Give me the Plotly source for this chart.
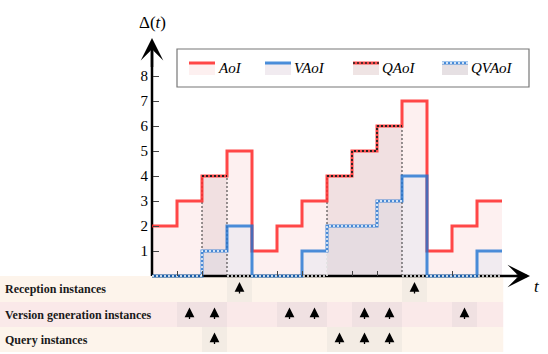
import plotly.graph_objects as go

# Data: one value per unit time slot
slots = list(range(14))
aoi = [2, 3, 4, 5, 1, 2, 3, 4, 5, 6, 7, 1, 2, 3]
vaoi = [0, 0, 1, 2, 0, 0, 1, 2, 2, 3, 4, 0, 0, 1]
reception_slots = [3, 10]
version_slots = [1, 2, 5, 6, 8, 9, 12]
query_slots = [2, 7, 8, 9]
y_ticks = [1, 2, 3, 4, 5, 6, 7, 8]
row_labels = ["Reception instances", "Version generation instances", "Query instances"]
legend_names = ["AoI", "VAoI", "QAoI", "QVAoI"]

# Canvas geometry (pixels) -> data units
W, H = 548, 354
X0_PX, Y0_PX, UNIT = 152, 276, 25
x_range = [-X0_PX / UNIT, (W - X0_PX) / UNIT]
y_range = [-(H - Y0_PX) / UNIT, Y0_PX / UNIT]

RED = "rgba(255,40,40,0.85)"
BLUE = "rgba(30,115,210,0.8)"
PINK = "#fdf0f0"
LAV = "#f1ebf0"
QSHADE = "rgba(140,90,100,0.1)"
SERIF = "Liberation Serif"


def step(vals, start):
    xs = list(range(start, start + len(vals) + 1))
    return xs, list(vals) + [vals[-1]]


def groups(s):
    out = []
    for q in s:
        if out and out[-1][-1] == q - 1:
            out[-1].append(q)
        else:
            out.append([q])
    return out


def px(x):
    return x / W


def py(y):
    return 1 - y / H


fig = go.Figure()
end = len(slots)

# filled areas
x, y = step(aoi, 0)
fig.add_trace(go.Scatter(x=x, y=y, mode="none", fill="tozeroy", fillcolor=PINK, line_shape="hv"))
x, y = step(vaoi, 0)
fig.add_trace(go.Scatter(x=x, y=y, mode="none", fill="tozeroy", fillcolor=LAV, line_shape="hv"))
for w in groups(query_slots):
    x, y = step([aoi[s] for s in w], w[0])
    fig.add_trace(go.Scatter(x=x, y=y, mode="none", fill="tozeroy", fillcolor=QSHADE, line_shape="hv"))

# axis lines
fig.add_trace(go.Scatter(x=[0, end + 1], y=[0, 0], mode="lines", line=dict(color="black", width=2.5)))
fig.add_trace(go.Scatter(x=[0, 0], y=[0, 9.0], mode="lines", line=dict(color="black", width=2.5)))

# query window edges
for w in groups(query_slots):
    a, b = w[0], w[-1] + 1
    fig.add_trace(go.Scatter(x=[a, a, None, b, b], y=[0, aoi[w[0]], None, 0, aoi[w[-1]]],
                             mode="lines", line=dict(color="#333", width=1, dash="2px,2px")))

# AoI / VAoI lines
x, y = step(aoi, 0)
fig.add_trace(go.Scatter(x=x, y=y, mode="lines", line=dict(color=RED, width=3, shape="hv")))
x, y = step(vaoi, 0)
fig.add_trace(go.Scatter(x=x, y=y, mode="lines", line=dict(color=BLUE, width=3, shape="hv")))

# dotted baseline outside query windows (QVAoI at zero)
bx, by = [], []
for g in groups([s for s in slots if s not in query_slots]):
    bx += [g[0], g[-1] + 1, None]
    by += [0, 0, None]
fig.add_trace(go.Scatter(x=bx, y=by, mode="lines", line=dict(color="white", width=1.5, dash="2px,2px")))

# QAoI / QVAoI dotted lines
for w in groups(query_slots):
    x, y = step([aoi[s] for s in w], w[0])
    fig.add_trace(go.Scatter(x=x, y=y, mode="lines", line=dict(color="#222", width=1.8, dash="2px,2px", shape="hv")))
    x, y = step([vaoi[s] for s in w], w[0])
    fig.add_trace(go.Scatter(x=[w[0]] + x, y=[0] + y, mode="lines",
                             line=dict(color="white", width=1.5, dash="2px,2px", shape="hv")))

shapes = []
annotations = []

# bottom table
row_bg = ["#fdf4eb", "#fae9e9", "#fdf4eb"]
cell_bg = ["#f3ece4", "#f0e1e2", "#f3ece4"]
row_slots = [reception_slots, version_slots, query_slots]
for i, (lab, marks) in enumerate(zip(row_labels, row_slots)):
    top = -i - (0.04 if i else 0)
    bot = -i - 1.04
    shapes.append(dict(type="rect", xref="x", yref="y", x0=x_range[0], x1=end + 0.05, y0=bot, y1=top,
                       fillcolor=row_bg[i], line_width=0, layer="below"))
    for s in marks:
        shapes.append(dict(type="rect", xref="x", yref="y", x0=s, x1=s + 1, y0=bot, y1=top,
                           fillcolor=cell_bg[i], line_width=0, layer="below"))
        annotations.append(dict(x=s + 0.5, y=(top + bot) / 2 + 0.28, ax=0, ay=13, text="",
                                showarrow=True, arrowhead=2, arrowsize=1.5, arrowwidth=1.3, arrowcolor="black"))
    annotations.append(dict(xref="paper", x=px(3), y=(top + bot) / 2, text=lab, showarrow=False,
                            xanchor="left", yanchor="middle",
                            font=dict(family=SERIF, size=12, color="#1a1a1a", weight="bold")))

# axis arrowheads and labels
annotations.append(dict(x=0, y=(Y0_PX - 38) / UNIT, ax=0, ay=8.3, axref="x", ayref="y", text="",
                        showarrow=True, arrowhead=3, arrowsize=1.5, arrowwidth=2.5, arrowcolor="black", standoff=0))
annotations.append(dict(x=(530 - X0_PX) / UNIT, y=0, ax=end + 0.5, ay=0, axref="x", ayref="y", text="",
                        showarrow=True, arrowhead=3, arrowsize=1.5, arrowwidth=2.5, arrowcolor="black", standoff=0))
annotations.append(dict(x=0, y=(Y0_PX - 22) / UNIT, text="Δ(<i>t</i>)", showarrow=False,
                        font=dict(family=SERIF, size=17, color="black")))
annotations.append(dict(x=(537 - X0_PX) / UNIT, y=-0.42, text="<i>t</i>", showarrow=False,
                        font=dict(family=SERIF, size=17, color="black")))

# legend box
shapes.append(dict(type="rect", xref="paper", yref="paper", x0=px(177), x1=px(529), y0=py(87), y1=py(49),
                   fillcolor="white", line=dict(color="#777", width=1.2)))
sw_x = [189, 265, 353, 442]
sw_line = [RED, BLUE, RED, BLUE]
sw_fill = [PINK, LAV, "#efe4e4", "#e6e0e3"]
sw_dots = [None, None, "#222", "white"]
for name, x0, lc, fc, dc in zip(legend_names, sw_x, sw_line, sw_fill, sw_dots):
    shapes.append(dict(type="rect", xref="paper", yref="paper", x0=px(x0), x1=px(x0 + 26),
                       y0=py(75), y1=py(63), fillcolor=fc, line_width=0))
    shapes.append(dict(type="line", xref="paper", yref="paper", x0=px(x0), x1=px(x0 + 26),
                       y0=py(63), y1=py(63), line=dict(color=lc, width=3)))
    if dc:
        shapes.append(dict(type="line", xref="paper", yref="paper", x0=px(x0), x1=px(x0 + 26),
                           y0=py(63), y1=py(63), line=dict(color=dc, width=1.6, dash="2px,2px")))
    annotations.append(dict(xref="paper", yref="paper", x=px(x0 + 27), y=py(68), text="<i>" + name + "</i>",
                            showarrow=False, xanchor="left", yanchor="middle",
                            font=dict(family=SERIF, size=15, color="black")))

fig.update_layout(
    width=W, height=H, margin=dict(l=0, r=0, t=0, b=0),
    plot_bgcolor="white", paper_bgcolor="white", showlegend=False,
    shapes=shapes, annotations=annotations,
    xaxis=dict(range=x_range, anchor="free", position=1 - Y0_PX / H, showgrid=False, zeroline=False,
               showline=False, showticklabels=False, ticks="inside", ticklen=5, tickwidth=1.3,
               tickcolor="#444", tickvals=version_slots),
    yaxis=dict(range=y_range, anchor="free", position=X0_PX / W, showgrid=False, zeroline=False,
               showline=False, ticks="inside", ticklen=6, tickwidth=1.3, tickcolor="#444",
               tickvals=y_ticks, tickfont=dict(family=SERIF, size=15, color="black"), ticklabelstandoff=4),
)

# the page body has a default 8px margin; drop it so the figure fills the window
fig.write_html("out.html", config={"displayModeBar": False},
               post_script="document.body.style.margin='0';")
